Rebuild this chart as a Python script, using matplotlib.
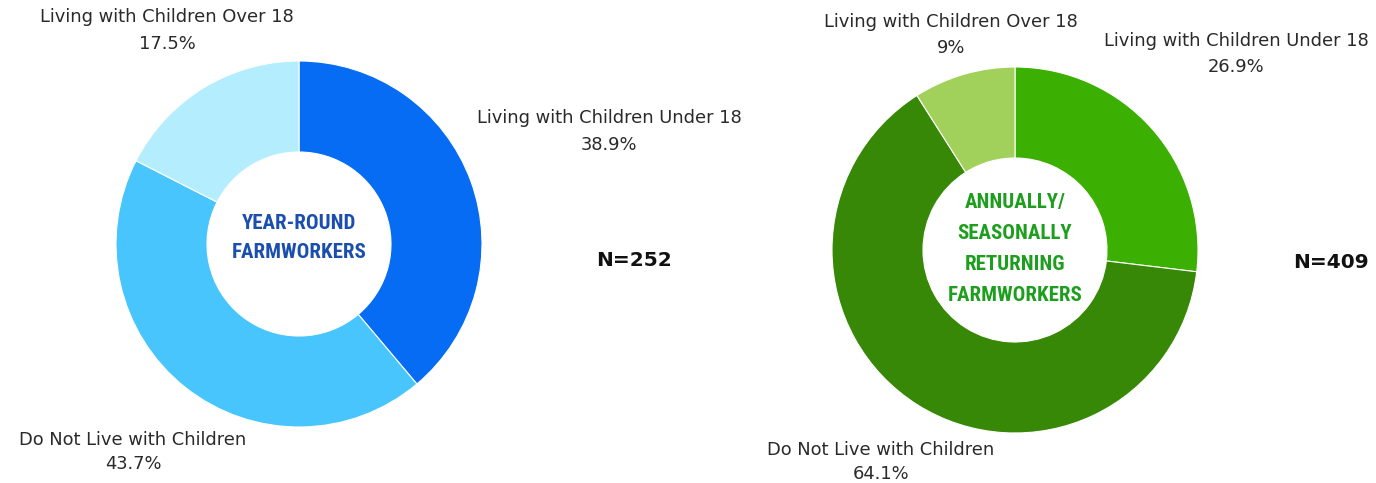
import matplotlib
matplotlib.use("Agg")
import matplotlib.pyplot as plt

W, H = 1376, 483

left_labels = ["Living with Children Under 18", "Do Not Live with Children", "Living with Children Over 18"]
left_values = [38.9, 43.7, 17.5]
left_pct = ["38.9%", "43.7%", "17.5%"]
left_colors = ["#066CF3", "#49C5FE", "#B4EEFE"]
left_title = "YEAR-ROUND\nFARMWORKERS"
left_n = "N=252"

right_labels = ["Living with Children Under 18", "Do Not Live with Children", "Living with Children Over 18"]
right_values = [26.9, 64.1, 9.0]
right_pct = ["26.9%", "64.1%", "9%"]
right_colors = ["#3CB002", "#388807", "#A1D15B"]
right_title = "ANNUALLY/\nSEASONALLY\nRETURNING\nFARMWORKERS"
right_n = "N=409"

fig = plt.figure(figsize=(W / 100, H / 100), dpi=100)
ax = fig.add_axes([0, 0, 1, 1])

def Y(y):
    return H - y

lab_font = dict(family=["DejaVu Sans"], fontsize=12.9, color="#2a2a2a", ha="center", va="center")
cond = dict(family=["Roboto Condensed", "DejaVu Sans"], fontstretch="condensed", fontweight="bold")

ax.pie(left_values, colors=left_colors, startangle=90, counterclock=False,
       center=(299, Y(244)), radius=183, frame=True,
       wedgeprops=dict(width=91, edgecolor="white", linewidth=0.8))
ax.text(299, Y(238), left_title, **cond, fontsize=15,
        color="#1A4FAF", ha="center", va="center", linespacing=1.72)

ax.pie(right_values, colors=right_colors, startangle=90, counterclock=False,
       center=(1015, Y(250)), radius=183, frame=True,
       wedgeprops=dict(width=91, edgecolor="white", linewidth=0.8))
ax.text(1015, Y(249), right_title, **cond, fontsize=15,
        color="#1E9E1E", ha="center", va="center", linespacing=1.78)

ax.set_xlim(0, W)
ax.set_ylim(0, H)
ax.set_aspect("equal")
ax.axis("off")

left_pos = [(609, 118, 145), (133, 440, 464), (167, 17, 44)]
for (x, y1, y2), lab, p in zip(left_pos, left_labels, left_pct):
    ax.text(x, Y(y1), lab, **lab_font)
    ax.text(x, Y(y2), p, **lab_font)

right_pos = [(1236, 41, 67), (881, 450, 474), (951, 22, 48)]
for (x, y1, y2), lab, p in zip(right_pos, right_labels, right_pct):
    ax.text(x, Y(y1), lab, **lab_font)
    ax.text(x, Y(y2), p, **lab_font)

nfont = dict(family=["DejaVu Sans"], fontsize=14.5, fontweight="bold",
             color="#111111", ha="center", va="center")
ax.text(634, Y(260), left_n, **nfont)
ax.text(1331, Y(263), right_n, **nfont)

fig.savefig("out.png", dpi=100)
